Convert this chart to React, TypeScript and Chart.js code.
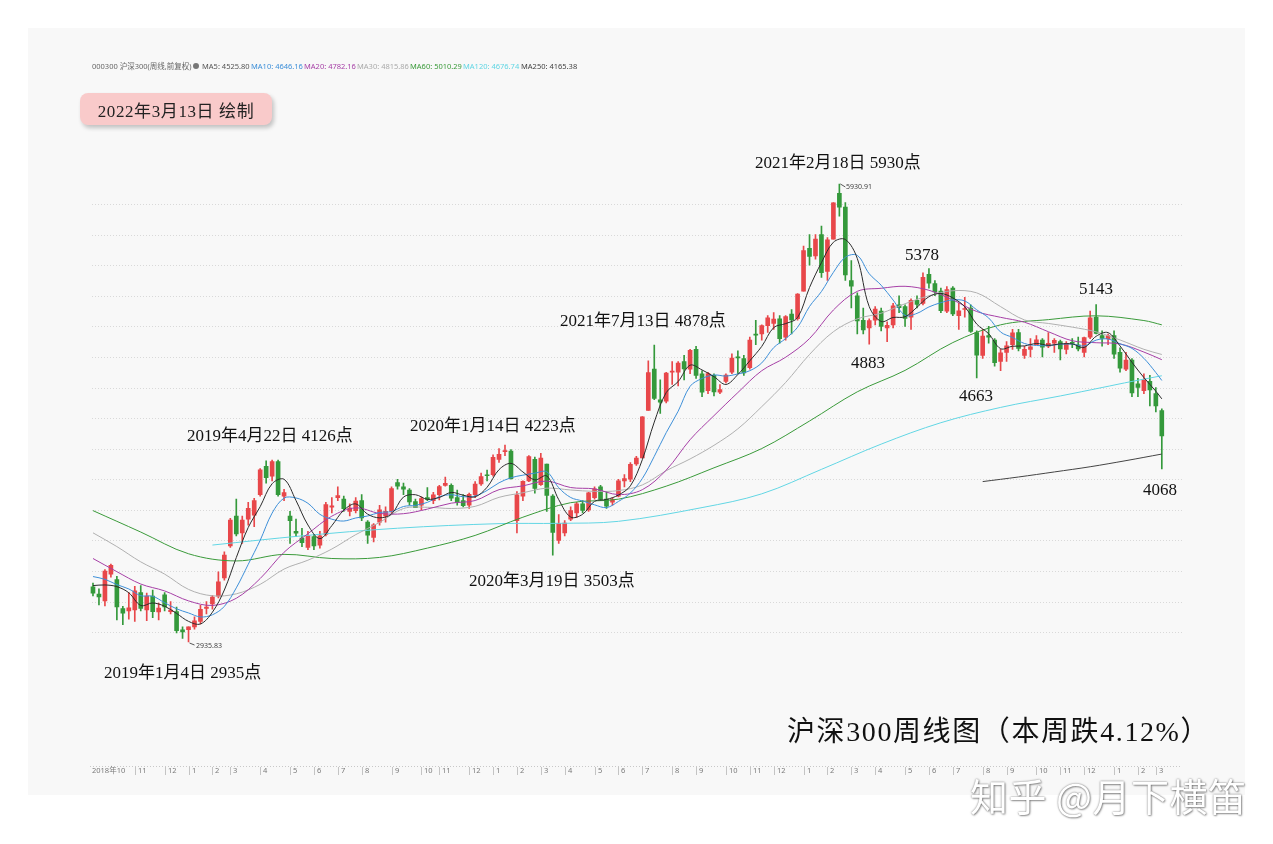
import React, { useEffect, useRef } from 'react';
import { Chart, registerables } from 'chart.js';

Chart.register(...registerables);

// Week-ending dates (weekly candles)
const weekDates: string[] = [
  '2018-09-07','2018-09-14','2018-09-21','2018-09-28','2018-10-12','2018-10-19','2018-10-26','2018-11-02','2018-11-09','2018-11-16',
  '2018-11-23','2018-11-30','2018-12-07','2018-12-14','2018-12-21','2018-12-28','2019-01-04','2019-01-11','2019-01-18','2019-01-25',
  '2019-02-01','2019-02-15','2019-02-22','2019-03-01','2019-03-08','2019-03-15','2019-03-22','2019-03-29','2019-04-04','2019-04-12',
  '2019-04-19','2019-04-26','2019-04-30','2019-05-10','2019-05-17','2019-05-24','2019-05-31','2019-06-06','2019-06-14','2019-06-21',
  '2019-06-28','2019-07-05','2019-07-12','2019-07-19','2019-07-26','2019-08-02','2019-08-09','2019-08-16','2019-08-23','2019-08-30',
  '2019-09-06','2019-09-12','2019-09-20','2019-09-27','2019-09-30','2019-10-11','2019-10-18','2019-10-25','2019-11-01','2019-11-08',
  '2019-11-15','2019-11-22','2019-11-29','2019-12-06','2019-12-13','2019-12-20','2019-12-27','2020-01-03','2020-01-10','2020-01-17',
  '2020-01-23','2020-02-07','2020-02-14','2020-02-21','2020-02-28','2020-03-06','2020-03-13','2020-03-20','2020-03-27','2020-04-03',
  '2020-04-10','2020-04-17','2020-04-24','2020-04-30','2020-05-08','2020-05-15','2020-05-22','2020-05-29','2020-06-05','2020-06-12',
  '2020-06-19','2020-06-24','2020-07-03','2020-07-10','2020-07-17','2020-07-24','2020-07-31','2020-08-07','2020-08-14','2020-08-21',
  '2020-08-28','2020-09-04','2020-09-11','2020-09-18','2020-09-25','2020-09-30','2020-10-09','2020-10-16','2020-10-23','2020-10-30',
  '2020-11-06','2020-11-13','2020-11-20','2020-11-27','2020-12-04','2020-12-11','2020-12-18','2020-12-25','2020-12-31','2021-01-08',
  '2021-01-15','2021-01-22','2021-01-29','2021-02-05','2021-02-10','2021-02-19','2021-02-26','2021-03-05','2021-03-12','2021-03-19',
  '2021-03-26','2021-04-02','2021-04-09','2021-04-16','2021-04-23','2021-04-30','2021-05-07','2021-05-14','2021-05-21','2021-05-28',
  '2021-06-04','2021-06-11','2021-06-18','2021-06-25','2021-07-02','2021-07-09','2021-07-16','2021-07-23','2021-07-30','2021-08-06',
  '2021-08-13','2021-08-20','2021-08-27','2021-09-03','2021-09-10','2021-09-17','2021-09-24','2021-09-30','2021-10-08','2021-10-15',
  '2021-10-22','2021-10-29','2021-11-05','2021-11-12','2021-11-19','2021-11-26','2021-12-03','2021-12-10','2021-12-17','2021-12-24',
  '2021-12-31','2022-01-07','2022-01-14','2022-01-21','2022-01-28','2022-02-11','2022-02-18','2022-02-25','2022-03-04','2022-03-11',
];

const opens: number[] = [
  3296,3250,3204,3380,3345,3155,3140,3145,3260,3145,
  3237,3132,3245,3135,3135,3015,3017,3034,3070,3155,
  3185,3235,3355,3564,3760,3649,3740,3765,3900,4085,
  4020,4115,3890,3760,3660,3616,3555,3625,3570,3640,
  3818,3880,3870,3790,3795,3860,3720,3620,3720,3760,
  3790,3978,3950,3930,3855,3830,3880,3860,3900,3960,
  3960,3880,3860,3830,3900,3970,4025,4030,4130,4180,
  4185,3730,3890,3990,4130,3965,4100,3890,3600,3650,
  3740,3780,3840,3800,3880,3950,3870,3850,3890,3990,
  4000,4100,4140,4450,4720,4520,4510,4700,4700,4770,
  4720,4850,4690,4580,4680,4570,4640,4700,4800,4790,
  4730,4950,4950,5005,5020,5050,4930,5080,5050,5230,
  5510,5460,5600,5360,5570,5870,5780,5300,5200,5040,
  4990,5040,5100,4990,5010,5140,5130,5060,5170,5150,
  5340,5280,5230,5100,5250,5070,5110,5120,4960,4810,
  4940,4910,4770,4830,4880,4960,4810,4850,4880,4910,
  4870,4890,4900,4850,4890,4880,4830,4930,5060,4940,
  4920,4940,4830,4720,4780,4625,4580,4640,4560,4450,
];

const highs: number[] = [
  3322,3283,3410,3445,3365,3170,3260,3300,3305,3256,
  3276,3190,3260,3200,3165,3035,3036,3100,3175,3200,
  3240,3395,3525,3745,3871,3760,3850,3875,4070,4120,
  4125,4126,3935,3790,3740,3680,3660,3640,3660,3850,
  3880,3950,3890,3840,3880,3900,3730,3710,3830,3820,
  3950,4000,3975,3940,3870,3885,3945,3915,3960,4015,
  3970,3930,3900,3910,3985,4040,4060,4160,4200,4223,
  4195,3920,3990,4155,4145,4170,4100,3900,3770,3730,
  3820,3850,3860,3915,3950,3960,3920,3880,4000,4030,
  4110,4150,4410,4775,4878,4650,4700,4770,4770,4810,
  4850,4870,4710,4700,4690,4620,4690,4820,4840,4810,
  4930,5040,5010,5070,5090,5070,5070,5110,5215,5525,
  5600,5600,5655,5580,5810,5930.91,5810,5430,5220,5120,
  5050,5130,5120,5030,5150,5200,5140,5180,5200,5350,
  5378,5300,5250,5260,5260,5150,5190,5140,4970,4980,
  5000,4920,4850,4900,4980,4980,4870,4920,4940,4920,
  4960,4920,4910,4900,4920,4930,4930,5100,5143,4970,
  4950,4970,4860,4830,4790,4660,4690,4680,4600,4460,
];

const lows: number[] = [
  3237,3178,3172,3360,3080,3050,3085,3070,3140,3075,
  3095,3080,3140,3120,2995,2960,2935.83,3020,3055,3120,
  3150,3225,3340,3555,3630,3580,3700,3690,3890,3975,
  3990,3890,3860,3580,3625,3560,3540,3540,3550,3630,
  3780,3860,3790,3760,3780,3730,3580,3590,3700,3720,
  3780,3935,3900,3830,3814,3800,3860,3840,3865,3955,
  3860,3830,3820,3810,3880,3960,3990,4020,4110,4155,
  4000,3650,3860,3985,3910,3960,3790,3503,3580,3630,
  3730,3750,3780,3790,3870,3860,3810,3830,3885,3950,
  3985,4090,4140,4450,4520,4430,4500,4620,4610,4650,
  4690,4660,4540,4560,4545,4560,4630,4690,4690,4680,
  4720,4880,4910,4960,4980,4890,4910,4950,5040,5230,
  5400,5440,5320,5300,5570,5720,5300,5120,4950,4950,
  4883,5010,4970,4900,4990,5090,5000,4980,5120,5140,
  5250,5200,5090,5090,5070,4980,5060,4960,4663,4790,
  4890,4740,4710,4770,4850,4840,4790,4800,4880,4800,
  4860,4830,4780,4820,4860,4840,4800,4920,4950,4870,
  4880,4790,4700,4710,4540,4540,4560,4480,4440,4068,
];

const closes: number[] = [
  3256,3230,3400,3438,3166,3125,3160,3270,3155,3237,
  3135,3158,3165,3145,3010,3002,3035,3075,3150,3165,
  3230,3330,3505,3734,3642,3733,3810,3860,4062,4010,
  4115,3900,3913,3730,3648,3585,3630,3565,3630,3835,
  3826,3893,3808,3812,3858,3747,3634,3703,3800,3790,
  3940,3955,3935,3852,3814,3874,3869,3898,3952,3973,
  3877,3849,3828,3902,3968,4017,4023,4144,4164,4187,
  4004,3899,3987,4149,3940,4138,3895,3653,3710,3713,
  3796,3839,3797,3912,3937,3868,3824,3868,3990,4004,
  4098,4138,4408,4698,4529,4505,4695,4707,4760,4722,
  4844,4679,4569,4692,4571,4587,4681,4793,4793,4695,
  4911,4943,5005,5055,5048,4919,5064,5042,5211,5495,
  5458,5570,5351,5565,5807,5779,5336,5262,5035,4977,
  5037,5113,4999,5007,5135,5123,5052,5171,5144,5321,
  5282,5225,5102,5240,5081,5101,5116,4967,4811,4937,
  4930,4763,4827,4872,4958,4855,4849,4866,4912,4864,
  4889,4908,4853,4888,4889,4853,4926,5055,4954,4921,
  4940,4818,4726,4779,4564,4600,4650,4585,4480,4283,
];

// Moving-average lines: [week index, value]
const ma5: [number, number][] = [
  [0,3305],[2,3309],[4,3298],[6,3258],[8,3175],[10,3191],[12,3170],[14,3123],[16,3071],[18,3054],
  [20,3131],[22,3276],[24,3488],[26,3685],[28,3821],[30,3971],[32,4000],[34,3861],[36,3701],[38,3612],
  [40,3697],[42,3798],[44,3839],[46,3772],[48,3748],[50,3773],[52,3884],[54,3899],[56,3869],[58,3881],
  [60,3914],[62,3896],[64,3885],[66,3948],[68,4063],[70,4104],[72,4048],[74,3996],[76,4022],[78,3867],
  [80,3753],[82,3771],[84,3856],[86,3868],[88,3897],[90,3957],[92,4128],[94,4374],[96,4567],[98,4639],
  [100,4746],[102,4715],[104,4671],[106,4620],[108,4685],[110,4775],[112,4869],[114,4992],[116,5018],[118,5057],
  [120,5254],[122,5417],[124,5550],[126,5568],[128,5444],[130,5129],[132,5032],[134,5058],[136,5063],[138,5125],
  [140,5194],[142,5215],[144,5186],[146,5128],[148,5015],[150,4952],[152,4854],[154,4870],[156,4872],[158,4888],
  [160,4876],[162,4885],[164,4885],[166,4862],[168,4935],[170,4959],[172,4872],[174,4765],[176,4665],[178,4576],
  [179,4526],
];
const ma10: [number, number][] = [
  [0,3364],[2,3346],[4,3311],[6,3283],[8,3239],[10,3235],[12,3193],[14,3153],[16,3126],[18,3100],
  [20,3114],[22,3169],[24,3290],[26,3444],[28,3601],[30,3779],[32,3877],[34,3878],[36,3843],[38,3771],
  [40,3739],[42,3727],[44,3747],[46,3760],[48,3783],[50,3789],[52,3822],[54,3830],[56,3849],[58,3886],
  [60,3899],[62,3886],[64,3891],[66,3927],[68,3977],[70,4010],[72,4027],[74,4040],[76,4049],[78,3945],
  [80,3881],[82,3858],[84,3833],[86,3815],[88,3855],[90,3910],[92,4005],[94,4150],[96,4305],[98,4445],
  [100,4608],[102,4659],[104,4682],[106,4675],[108,4689],[110,4710],[112,4761],[114,4861],[116,4920],[118,4994],
  [120,5130],[122,5228],[124,5353],[126,5452],[128,5464],[130,5344],[132,5269],[134,5172],[136,5072],[138,5085],
  [140,5127],[142,5155],[144,5173],[146,5166],[148,5108],[150,5055],[152,4963],[154,4927],[156,4888],[158,4875],
  [160,4874],[162,4883],[164,4884],[166,4872],[168,4910],[170,4917],[172,4886],[174,4856],[176,4791],[178,4698],
  [179,4646],
];
const ma20: [number, number][] = [
  [0,3482],[4,3396],[8,3315],[12,3270],[16,3205],[20,3175],[24,3222],[28,3351],[32,3523],[36,3644],
  [40,3759],[44,3813],[48,3777],[52,3775],[56,3805],[60,3844],[64,3861],[68,3932],[72,3957],[76,3988],
  [80,3946],[84,3937],[88,3900],[92,3932],[96,4060],[100,4259],[104,4416],[108,4567],[112,4710],[116,4798],
  [120,4920],[124,5107],[128,5229],[132,5249],[136,5262],[140,5236],[144,5173],[148,5097],[152,5059],[156,5027],
  [160,4965],[164,4906],[168,4893],[172,4885],[176,4832],[179,4782],
];
const ma30: [number, number][] = [
  [0,3650],[4,3560],[8,3460],[12,3380],[16,3280],[20,3238],[24,3251],[28,3313],[32,3413],[36,3471],
  [40,3544],[44,3638],[48,3718],[52,3809],[56,3817],[60,3809],[64,3823],[68,3882],[72,3912],[76,3942],
  [80,3930],[84,3921],[88,3926],[92,3963],[96,4056],[100,4133],[104,4222],[108,4330],[112,4475],[116,4633],
  [120,4816],[124,4965],[128,5049],[132,5086],[136,5148],[140,5200],[144,5233],[148,5219],[152,5129],[156,5042],
  [160,5019],[164,4995],[168,4964],[172,4911],[176,4850],[179,4816],
];
const ma60: [number, number][] = [
  [0,3795],[8,3655],[16,3513],[24,3466],[32,3509],[40,3482],[48,3489],[56,3550],[64,3633],[72,3752],
  [80,3847],[88,3870],[96,3955],[104,4075],[112,4201],[120,4381],[128,4572],[136,4712],[144,4894],[152,5010],
  [160,5044],[168,5069],[176,5038],[179,5010],
];
const ma120: [number, number][] = [
  [20,3570],[35,3630],[51,3680],[68,3710],[78,3712],[88,3725],[102,3815],[112,3905],[122,4065],[132,4230],
  [142,4370],[152,4470],[162,4545],[169,4600],[174,4640],[179,4677],
];
const ma250: [number, number][] = [
  [149,3985],[155,4015],[161,4048],[167,4082],[173,4122],[179,4165],
];

const maNames = ['MA5', 'MA10', 'MA20', 'MA30', 'MA60', 'MA120', 'MA250'];
const maLastValues = ['4525.80', '4646.16', '4782.16', '4815.86', '5010.29', '4676.74', '4165.38'];
const maColors = ['#2b2b2b', '#3d8fd8', '#a63fa6', '#b0b0b0', '#3a9a3a', '#62d6e4', '#444444'];
const maLegendColors = ['#555555', '#3d8fd8', '#a63fa6', '#aaaaaa', '#3a9a3a', '#62d6e4', '#444444'];
const maLegendX = [202, 251, 304, 357, 410, 463, 521];

const gridLevels = [3000, 3200, 3400, 3600, 3800, 4000, 4200, 4400, 4600, 4800, 5000, 5200, 5400, 5600, 5800];

const monthTickIdx = [4,7,12,16,20,23,28,33,37,41,45,50,55,58,63,67,71,75,79,84,88,92,97,101,106,110,114,119,123,127,131,136,140,144,149,153,158,162,166,171,175,178];
const monthTickLabels = ['2018年10','11','12','1','2','3','4','5','6','7','8','9','10','11','12','1','2','3','4','5','6','7','8','9','10','11','12','1','2','3','4','5','6','7','8','9','10','11','12','1','2','3'];

const annotations: { text: string; left: number; top: number }[] = [
  { text: '2021年2月18日 5930点', left: 755, top: 153 },
  { text: '2021年7月13日 4878点', left: 560, top: 311 },
  { text: '2019年4月22日 4126点', left: 187, top: 426 },
  { text: '2020年1月14日 4223点', left: 410, top: 416 },
  { text: '2020年3月19日 3503点', left: 469, top: 571 },
  { text: '2019年1月4日 2935点', left: 104, top: 663 },
  { text: '5378', left: 905, top: 245 },
  { text: '4883', left: 851, top: 353 },
  { text: '4663', left: 959, top: 386 },
  { text: '5143', left: 1079, top: 279 },
  { text: '4068', left: 1143, top: 480 },
];

const W = 1273;
const H = 844;
const AREA_LEFT = 90;
const AREA_RIGHT = 1164.8;
const AREA_TOP = 60;
const AREA_BOTTOM = 766;
const Y_MIN = 2125.2;
const Y_MAX = 6741.7;

const serif = '"Liberation Serif", "Noto Sans CJK SC", serif';
const sans = '"Noto Sans", "Noto Sans CJK SC", sans-serif';

export default function App() {
  const ref = useRef<HTMLCanvasElement>(null);

  useEffect(() => {
    const canvas = ref.current;
    if (!canvas) return;
    const up = '#e8474a';
    const down = '#34993b';
    const colors = closes.map((c, i) => (c >= opens[i] ? up : down));
    const toPts = (arr: [number, number][]) => arr.map(([i, v]) => ({ x: weekDates[i], y: v }));
    const maSeries = [ma5, ma10, ma20, ma30, ma60, ma120, ma250];

    const decor = {
      id: 'decor',
      beforeDatasetsDraw(chart: any) {
        const { ctx, scales } = chart;
        const y = scales.y;
        ctx.save();
        ctx.strokeStyle = '#d9d9d9';
        ctx.lineWidth = 1;
        ctx.setLineDash([1, 2]);
        for (const v of gridLevels) {
          const py = Math.round(y.getPixelForValue(v)) + 0.5;
          ctx.beginPath();
          ctx.moveTo(92, py);
          ctx.lineTo(1182, py);
          ctx.stroke();
        }
        ctx.restore();
      },
      afterDraw(chart: any) {
        const { ctx, scales } = chart;
        const x = scales.x;
        const y = scales.y;
        ctx.save();
        ctx.strokeStyle = '#c8c8c8';
        ctx.lineWidth = 1;
        ctx.setLineDash([1, 2]);
        ctx.beginPath();
        ctx.moveTo(90, 766.5);
        ctx.lineTo(1182, 766.5);
        ctx.stroke();
        ctx.setLineDash([]);
        ctx.font = `7.5px ${sans}`;
        ctx.fillStyle = '#7a7a7a';
        ctx.textBaseline = 'middle';
        ctx.textAlign = 'left';
        monthTickIdx.forEach((idx, k) => {
          const px = Math.round(x.getPixelForValue(idx)) + 0.5;
          if (k === 0) {
            ctx.fillText(monthTickLabels[k], 92, 771);
            return;
          }
          ctx.strokeStyle = '#c4c4c4';
          ctx.beginPath();
          ctx.moveTo(px, 767);
          ctx.lineTo(px, 775);
          ctx.stroke();
          ctx.fillText(monthTickLabels[k], px + 2.5, 771);
        });
        // leader lines for max / min labels
        ctx.strokeStyle = '#555';
        const px1 = x.getPixelForValue(125);
        const py1 = y.getPixelForValue(5930.91);
        ctx.beginPath();
        ctx.moveTo(px1 + 1, py1);
        ctx.lineTo(px1 + 6, py1 + 3);
        ctx.stroke();
        const px2 = x.getPixelForValue(16);
        const py2 = y.getPixelForValue(2935.83);
        ctx.beginPath();
        ctx.moveTo(px2 + 1, py2 + 1);
        ctx.lineTo(px2 + 6, py2 + 3);
        ctx.stroke();
        ctx.restore();
      },
    };

    const lineSets = maSeries.map((s, k) => ({
      type: 'line' as const,
      label: maNames[k],
      data: toPts(s),
      borderColor: maColors[k],
      borderWidth: 1,
      pointRadius: 0,
      tension: 0.35,
      spanGaps: true,
      order: k,
    }));

    const chart = new Chart(canvas, {
      type: 'bar',
      data: {
        labels: weekDates,
        datasets: [
          {
            type: 'bar',
            label: 'wick',
            data: lows.map((l, i) => [l, highs[i]]) as any,
            backgroundColor: colors,
            borderWidth: 0,
            barThickness: 1,
            grouped: false,
            order: 20,
          } as any,
          {
            type: 'bar',
            label: 'body',
            data: opens.map((o, i) => [o, closes[i]]) as any,
            backgroundColor: colors,
            borderWidth: 0,
            barThickness: 4,
            minBarLength: 1,
            grouped: false,
            order: 10,
          } as any,
          ...lineSets,
        ],
      },
      options: {
        animation: false,
        responsive: false,
        maintainAspectRatio: false,
        events: [],
        layout: {
          padding: {
            left: AREA_LEFT,
            right: W - AREA_RIGHT,
            top: AREA_TOP,
            bottom: H - AREA_BOTTOM,
          },
        },
        plugins: {
          legend: { display: false },
          tooltip: { enabled: false },
        },
        scales: {
          x: { display: false, offset: true },
          y: { display: false, min: Y_MIN, max: Y_MAX },
        },
      },
      plugins: [decor],
    } as any);

    return () => chart.destroy();
  }, []);

  return (
    <div style={{ position: 'absolute', left: 0, top: 0, width: W, height: H, background: '#ffffff', overflow: 'hidden' }}>
      <div style={{ position: 'absolute', left: 28, top: 28, width: 1217, height: 767, background: '#f8f8f8' }} />
      <canvas ref={ref} width={W} height={H} style={{ position: 'absolute', left: 0, top: 0, width: W, height: H }} />

      {/* header legend */}
      <div style={{ position: 'absolute', left: 92, top: 61, fontFamily: sans, fontSize: 7.5, color: '#666', lineHeight: '10px', whiteSpace: 'nowrap' }}>
        000300 沪深300(周线,前复权)
      </div>
      <div style={{ position: 'absolute', left: 193, top: 63, width: 6, height: 6, borderRadius: 3, background: '#777' }} />
      {maNames.map((n, k) => (
        <div key={n} style={{ position: 'absolute', left: maLegendX[k], top: 61, fontFamily: sans, fontSize: 7.5, color: maLegendColors[k], lineHeight: '10px', whiteSpace: 'nowrap' }}>
          {n}: {maLastValues[k]}
        </div>
      ))}

      {/* date badge */}
      <div style={{ position: 'absolute', left: 80, top: 93, width: 192, height: 32, borderRadius: 8, background: '#f9caca', boxShadow: '2px 3px 4px rgba(0,0,0,0.22)', display: 'flex', alignItems: 'center', justifyContent: 'center', fontFamily: serif, fontSize: 17, letterSpacing: 0.6, color: '#222', whiteSpace: 'nowrap' }}>
        2022年3月13日 绘制
      </div>

      {/* max/min small labels */}
      <div style={{ position: 'absolute', left: 846, top: 182, fontFamily: sans, fontSize: 7, color: '#444', lineHeight: '9px' }}>5930.91</div>
      <div style={{ position: 'absolute', left: 196, top: 641, fontFamily: sans, fontSize: 7, color: '#444', lineHeight: '9px' }}>2935.83</div>

      {annotations.map((a) => (
        <div key={a.text} style={{ position: 'absolute', left: a.left, top: a.top, fontFamily: serif, fontSize: 17, lineHeight: '19px', color: '#111', whiteSpace: 'nowrap' }}>
          {a.text}
        </div>
      ))}

      {/* title */}
      <div style={{ position: 'absolute', left: 787, top: 716, fontFamily: serif, fontSize: 28, letterSpacing: 1.6, lineHeight: '32px', color: '#111', whiteSpace: 'nowrap' }}>
        沪深300周线图（本周跌4.12%）
      </div>

      {/* watermark */}
      <div style={{ position: 'absolute', left: 970, top: 773, fontFamily: '"Noto Sans CJK SC", sans-serif', fontSize: 38, letterSpacing: 0.5, lineHeight: '44px', color: '#ffffff', whiteSpace: 'nowrap', textShadow: '0 0 2px rgba(0,0,0,0.55), 1px 1px 2px rgba(0,0,0,0.35)' }}>
        知乎 @月下横笛
      </div>
    </div>
  );
}
